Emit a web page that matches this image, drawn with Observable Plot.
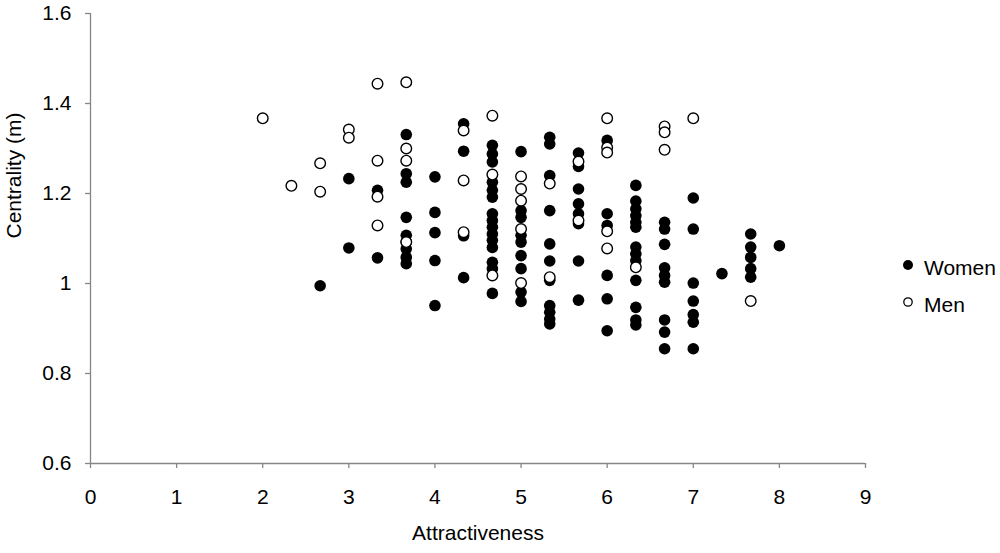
<!DOCTYPE html>
<html><head><meta charset="utf-8">
<script src="https://cdn.jsdelivr.net/npm/d3@7"></script>
<script src="https://cdn.jsdelivr.net/npm/@observablehq/plot@0.6"></script>
<style>
body{margin:0;background:#fff;}
#wrap{position:relative;width:1000px;height:553px;font-family:"Liberation Sans",Arial,sans-serif;}
#legend{position:absolute;left:890px;top:250px;}
</style></head><body>
<div id="wrap"></div>
<script>
const xTicks = [0, 1, 2, 3, 4, 5, 6, 7, 8, 9];
const yTicks = [0.6, 0.8, 1, 1.2, 1.4, 1.6];
const xTitle = "Attractiveness";
const yTitle = "Centrality (m)";
const seriesNames = ["Women", "Men"];

// [attractiveness, centrality]
const women = [
  [2.667, 0.995],
  [3, 1.233], [3, 1.079],
  [3.333, 1.207], [3.333, 1.057],
  [3.667, 1.331], [3.667, 1.244], [3.667, 1.225], [3.667, 1.147], [3.667, 1.107], [3.667, 1.092], [3.667, 1.077], [3.667, 1.058], [3.667, 1.044],
  [4, 1.237], [4, 1.158], [4, 1.113], [4, 1.051], [4, 0.951],
  [4.333, 1.355], [4.333, 1.294], [4.333, 1.106], [4.333, 1.013],
  [4.667, 1.307], [4.667, 1.288], [4.667, 1.270], [4.667, 1.225], [4.667, 1.207], [4.667, 1.192], [4.667, 1.155], [4.667, 1.140], [4.667, 1.125], [4.667, 1.110], [4.667, 1.096], [4.667, 1.080], [4.667, 1.047], [4.667, 1.033], [4.667, 0.978],
  [5, 1.293], [5, 1.162], [5, 1.147], [5, 1.107], [5, 1.092], [5, 1.062], [5, 1.033], [5, 0.981], [5, 0.960],
  [5.333, 1.325], [5.333, 1.310], [5.333, 1.240], [5.333, 1.162], [5.333, 1.088], [5.333, 1.050], [5.333, 1.007], [5.333, 0.951], [5.333, 0.936], [5.333, 0.921], [5.333, 0.910],
  [5.667, 1.290], [5.667, 1.260], [5.667, 1.210], [5.667, 1.177], [5.667, 1.155], [5.667, 1.133], [5.667, 1.050], [5.667, 0.963],
  [6, 1.318], [6, 1.155], [6, 1.129], [6, 1.018], [6, 0.966], [6, 0.895],
  [6.333, 1.218], [6.333, 1.183], [6.333, 1.166], [6.333, 1.151], [6.333, 1.136], [6.333, 1.125], [6.333, 1.081], [6.333, 1.066], [6.333, 1.051], [6.333, 1.007], [6.333, 0.947], [6.333, 0.919], [6.333, 0.908],
  [6.667, 1.136], [6.667, 1.121], [6.667, 1.087], [6.667, 1.035], [6.667, 1.018], [6.667, 1.003], [6.667, 0.919], [6.667, 0.892], [6.667, 0.855],
  [7, 1.190], [7, 1.121], [7, 1.001], [7, 0.961], [7, 0.931], [7, 0.914], [7, 0.855],
  [7.333, 1.022],
  [7.667, 1.110], [7.667, 1.081], [7.667, 1.058], [7.667, 1.033], [7.667, 1.014],
  [8, 1.084]
];

const men = [
  [2, 1.367],
  [2.333, 1.217],
  [2.667, 1.267], [2.667, 1.204],
  [3, 1.342], [3, 1.324],
  [3.333, 1.444], [3.333, 1.273], [3.333, 1.193], [3.333, 1.129],
  [3.667, 1.447], [3.667, 1.300], [3.667, 1.273], [3.667, 1.092],
  [4.333, 1.340], [4.333, 1.229], [4.333, 1.114],
  [4.667, 1.373], [4.667, 1.242], [4.667, 1.018],
  [5, 1.238], [5, 1.210], [5, 1.184], [5, 1.121], [5, 1.001],
  [5.333, 1.222], [5.333, 1.014],
  [5.667, 1.271], [5.667, 1.140],
  [6, 1.367], [6, 1.302], [6, 1.291], [6, 1.116], [6, 1.078],
  [6.333, 1.036],
  [6.667, 1.349], [6.667, 1.336], [6.667, 1.297],
  [7, 1.367],
  [7.667, 0.961]
];

const axisColor = "#868686";
const fs = 21;

const chart = Plot.plot({
  width: 1000,
  height: 553,
  marginLeft: 90,
  marginRight: 135,
  marginTop: 13,
  marginBottom: 90,
  style: {fontFamily: '"Liberation Sans", Arial, sans-serif', fontSize: fs + "px", color: "#000", background: "#fff", overflow: "visible"},
  x: {domain: [0, 9]},
  y: {domain: [0.6, 1.6]},
  marks: [
    Plot.ruleY([0.6], {stroke: axisColor, strokeWidth: 1.3}),
    Plot.ruleX([0], {stroke: axisColor, strokeWidth: 1.3}),
    Plot.axisX({ticks: xTicks, tickSize: 5, tickPadding: 21, stroke: axisColor, strokeWidth: 1.3, fill: "#000", tickFormat: d => String(d), label: null, fontSize: fs}),
    Plot.axisY({ticks: yTicks, tickSize: 5, tickPadding: 14, stroke: axisColor, strokeWidth: 1.3, fill: "#000", tickFormat: d => d === 1 ? "1" : d.toFixed(1), label: null, fontSize: fs}),
    Plot.text([xTitle], {frameAnchor: "bottom", dy: 76, text: d => d, fontSize: fs, fill: "#000"}),
    Plot.text([yTitle], {frameAnchor: "left", dx: -76, rotate: -90, text: d => d, fontSize: fs, fill: "#000"}),
    Plot.dot(women, {x: d => d[0], y: d => d[1], r: 5.8, fill: "#000", stroke: "none"}),
    Plot.dot(men, {x: d => d[0], y: d => d[1], r: 5.3, fill: "#fff", stroke: "#000", strokeWidth: 1.4})
  ]
});
const wrap = document.getElementById("wrap");
wrap.appendChild(chart);

const ns = "http://www.w3.org/2000/svg";
const leg = document.createElementNS(ns, "svg");
leg.setAttribute("id", "legend");
leg.setAttribute("width", "110");
leg.setAttribute("height", "70");
leg.style.position = "absolute";
leg.style.left = "890px";
leg.style.top = "250px";
leg.style.fontFamily = '"Liberation Sans", Arial, sans-serif';
leg.style.fontSize = fs + "px";
seriesNames.forEach((name, i) => {
  const cy = 15 + i * 37;
  const c = document.createElementNS(ns, "circle");
  c.setAttribute("cx", 18);
  c.setAttribute("cy", cy);
  c.setAttribute("r", i === 0 ? 5 : 4.2);
  c.setAttribute("fill", i === 0 ? "#000" : "#fff");
  c.setAttribute("stroke", "#000");
  c.setAttribute("stroke-width", i === 0 ? 0 : 1.3);
  leg.appendChild(c);
  const t = document.createElementNS(ns, "text");
  t.setAttribute("x", 34);
  t.setAttribute("y", cy + 10);
  t.setAttribute("fill", "#000");
  t.textContent = name;
  leg.appendChild(t);
});
wrap.appendChild(leg);
</script>
</body></html>
